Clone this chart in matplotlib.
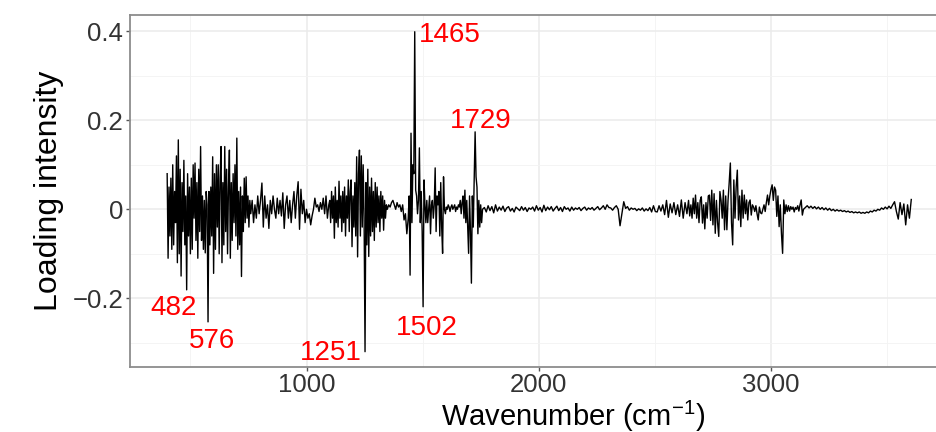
import numpy as np
import matplotlib
matplotlib.use("Agg")
import matplotlib.pyplot as plt
from matplotlib.ticker import FixedLocator, FuncFormatter

plt.rcParams['font.family'] = ['Liberation Sans', 'DejaVu Sans']
plt.rcParams['mathtext.fontset'] = 'custom'
plt.rcParams['mathtext.rm'] = 'Liberation Sans'
plt.rcParams['mathtext.default'] = 'regular'

# ---- spectrum data: (start wavenumber, step, loading values) per segment ----
seg1_start, seg1_step = 400, 4
seg1 = [0.08, -0.11, 0.05, -0.06, 0.07, -0.09, 0.10, -0.08, 0.04, -0.03,
        0.12, -0.12, 0.156, -0.10, 0.09, -0.15, 0.06, -0.05, 0.11, -0.08,
        0.03, -0.181, 0.08, -0.06, 0.05, -0.10, 0.07, -0.09, 0.10, -0.02,
        0.104, -0.07, 0.06, -0.11, 0.09, -0.05, 0.141, -0.07, 0.03, -0.09,
        0.02, -0.098, 0.04, 0.01, -0.253, 0.04, -0.08, 0.05, -0.06, 0.118,
        -0.144, 0.08, -0.09, 0.10, -0.04, 0.10, -0.10, 0.07, 0.141, -0.12,
        0.06, -0.08, 0.141, -0.05, 0.09, -0.10, 0.05, 0.133, -0.11, 0.06,
        -0.07, 0.08, -0.03, 0.10, -0.06, 0.16, -0.09, 0.04, -0.08, 0.05,
        -0.151, 0.03, -0.05, 0.07, -0.03, 0.073, -0.02, 0.03, -0.04, 0.02,
        -0.01]

seg2_start, seg2_step = 766, 6
seg2 = [0.02, -0.03, 0.01, -0.02, 0.03, -0.01, 0.02, 0.059, -0.04, 0.03,
        -0.02, 0.01, -0.043, 0.02, -0.01, 0.03, 0.00, -0.02, 0.025, -0.01,
        0.02, -0.015, 0.037, -0.043, 0.01, 0.03, -0.02, 0.02, -0.03, 0.01,
        0.04, -0.02, 0.03, 0.062, -0.045, 0.045, -0.01, 0.02, -0.03, 0.00,
        -0.02, -0.01, -0.035, -0.015, 0.00, 0.025, 0.005, 0.01, -0.005, 0.015,
        0.0, 0.025, -0.01, 0.03, -0.02, 0.01]

seg3_start, seg3_step = 1100, 4
seg3 = [0.02, -0.03, 0.04, -0.02, 0.03, -0.065, 0.05, -0.03, 0.02, -0.04,
        0.063, -0.02, 0.03, -0.05, 0.04, -0.03, 0.05, -0.06, 0.03, -0.02,
        0.066, -0.05, 0.04, 0.066, -0.084, 0.03, -0.04, 0.06, -0.06, 0.118,
        -0.107, 0.08, 0.133, -0.06, 0.12, -0.04, 0.10, -0.02, -0.32, 0.06,
        -0.08, 0.09, -0.106, 0.05, -0.06, 0.07, -0.05, 0.04, -0.07, 0.06,
        -0.04, 0.05, -0.03, 0.03, -0.05, 0.04, -0.02, 0.03, -0.047, 0.02,
        -0.02, 0.01, 0.00]

seg4_start, seg4_step = 1354, 6
seg4 = [0.01, 0.005, 0.015, 0.02, 0.01, 0.0, 0.015, 0.005, 0.01, -0.005,
        0.01, -0.024, -0.01, -0.055, -0.02]

seg5_start, seg5_step = 1442, 4
seg5 = [0.03, -0.148, 0.171, -0.03, 0.10, 0.08, 0.399, 0.043, 0.03, -0.01,
        0.02, 0.138, -0.03, 0.04, -0.05, -0.219, 0.066, 0.01, -0.03, 0.02,
        -0.03, 0.0, 0.03, -0.055, 0.01, 0.02, -0.02, 0.01, 0.093, -0.05,
        0.03, 0.01, 0.04, -0.06, 0.06, -0.04, -0.099, 0.073, 0.0, -0.01,
        0.005, 0.0, 0.01, 0.005, -0.005, 0.005, 0.01, 0.0, 0.005, 0.01,
        -0.005, 0.005, 0.0, 0.01, 0.005, 0.02, -0.01, 0.015, 0.03, -0.02,
        0.043, -0.03, 0.02, -0.04, -0.099, 0.03, -0.05, -0.166, 0.03, -0.04,
        0.073, 0.174, 0.073, 0.05, -0.055, 0.02, -0.04, 0.01, -0.03, 0.0]

seg6_start, seg6_step = 1766, 8
seg6 = [0.004, -0.006, 0.008, -0.003, 0.006, -0.008, 0.01, -0.004, 0.005, -0.002,
        0.007, -0.005, 0.003, 0.006, -0.004, 0.002, -0.006, 0.005, 0.001, -0.003,
        0.006, -0.002, 0.004, -0.005, 0.003, 0.0, 0.005, -0.004, 0.008, -0.002,
        0.004, -0.006, 0.009, -0.003, 0.005, -0.001, 0.006, -0.004, 0.002, 0.007,
        -0.003, 0.004, -0.005, 0.006, 0.0, 0.003, -0.004, 0.005, -0.002, 0.003,
        0.0, 0.004, -0.003, 0.002, 0.005, -0.002, 0.003, 0.0, 0.004, -0.002,
        0.002, 0.006, -0.001, 0.003, 0.008, 0.0, 0.01, 0.004]

seg7_start, seg7_step = 2310, 8
seg7 = [0.003, -0.002, 0.004, 0.008, 0.0, -0.037, -0.01, 0.017, 0.002, 0.006,
        -0.002, 0.003, 0.0, 0.002, -0.003, 0.001, -0.002, 0.003, -0.004, 0.001,
        -0.003, 0.004, -0.006, 0.008, -0.005]

seg8_start, seg8_step = 2510, 8
seg8 = [-0.006, 0.008, -0.004, 0.01, -0.012, 0.02, -0.018, 0.012, -0.008, 0.015,
        -0.012, 0.01, -0.016, 0.021, -0.02, 0.015, -0.01]

seg9_start, seg9_step = 2645, 5
seg9 = [0.02, -0.015, 0.01, -0.02, 0.025, -0.01, 0.032, -0.02, 0.015, -0.03,
        0.02, 0.028, -0.031, 0.01, -0.044, 0.015, -0.02, 0.03, 0.032, -0.025,
        0.043, -0.035, 0.035, -0.054, 0.02, -0.03, -0.061, 0.04, 0.02, -0.02,
        0.043, -0.046, 0.03, -0.046, 0.02, 0.06, 0.104, -0.03, -0.08, 0.066,
        -0.02, 0.05, 0.088, -0.024, 0.03, -0.039, 0.043, -0.02, 0.032, -0.01,
        0.021, -0.024, 0.015, 0.021, -0.013, 0.01, 0.005, -0.005, 0.008, -0.01,
        -0.024, 0.005, -0.008, -0.01, 0.0, 0.01, -0.005, 0.015, 0.032, 0.01,
        0.03, 0.045, 0.055, 0.02, 0.05, 0.043, -0.016, 0.03, -0.039, 0.01,
        -0.054, -0.099, 0.021, -0.01, 0.01, -0.005, 0.008, -0.004, 0.006, 0.0,
        0.005, -0.006, 0.004, 0.0, 0.008, -0.004, 0.01, 0.021, -0.013, 0.0]

seg10_start, seg10_step = 3148, 8
seg10 = [0.004, 0.008, 0.003, 0.007, 0.002, 0.006, 0.001, 0.005, 0.0, 0.004,
         -0.001, 0.003, -0.002, 0.002, -0.003, 0.0, -0.004, -0.001, -0.004, -0.002,
         -0.005, -0.003, -0.006, -0.004, -0.007, -0.005, -0.008, -0.006, -0.008, -0.006,
         -0.009, -0.007, -0.009, -0.006, -0.008, -0.004, -0.006, -0.002, -0.004, 0.0,
         -0.002, 0.003, 0.0, 0.005, 0.001, 0.007, 0.002, 0.01, 0.017, -0.005,
         -0.022, 0.015, -0.012, 0.012, -0.035, 0.01, -0.02, 0.022]

# labelled bands
peak_labels = ['482', '576', '1251', '1465', '1502', '1729']
label_x = [428, 594, 1104, 1615, 1516, 1750]
label_y = [-0.2375, -0.3117, -0.3387, 0.376, -0.2825, 0.183]

x_ticks = [1000, 2000, 3000]
y_ticks = [-0.2, 0.0, 0.2, 0.4]

segments = [(seg1_start, seg1_step, seg1), (seg2_start, seg2_step, seg2),
            (seg3_start, seg3_step, seg3), (seg4_start, seg4_step, seg4),
            (seg5_start, seg5_step, seg5), (seg6_start, seg6_step, seg6),
            (seg7_start, seg7_step, seg7), (seg8_start, seg8_step, seg8),
            (seg9_start, seg9_step, seg9), (seg10_start, seg10_step, seg10)]
wn = np.concatenate([s + st * np.arange(len(v)) for s, st, v in segments])
load = np.concatenate([np.asarray(v, float) for _, _, v in segments])

fig = plt.figure(figsize=(9.36, 4.32), dpi=100)
ax = fig.add_axes([130/936, 65/432, 817.5/936, 352/432])
ax.set_xlim(240, 3760)
ax.set_ylim(-0.3544, 0.4366)

# grid
ax.xaxis.set_major_locator(FixedLocator(x_ticks))
ax.xaxis.set_minor_locator(FixedLocator([500, 1500, 2500, 3500]))
ax.yaxis.set_major_locator(FixedLocator(y_ticks))
ax.yaxis.set_minor_locator(FixedLocator([-0.3, -0.1, 0.1, 0.3]))
ax.grid(True, which='major', color='#ebebeb', lw=1.1)
ax.grid(True, which='minor', color='#f3f3f3', lw=0.6)
ax.set_axisbelow(True)

ax.plot(wn, load, color='black', lw=1.0, zorder=3)

for t, xx, yy in zip(peak_labels, label_x, label_y):
    ax.text(xx, yy, t, color='#ff0000', fontsize=20, ha='center', va='baseline', zorder=4)

def yfmt(v, pos):
    if abs(v) < 1e-9:
        return '0'
    s = f'{v:.1f}'
    return s.replace('-', '\u2212')

ax.yaxis.set_major_formatter(FuncFormatter(yfmt))
ax.xaxis.set_major_formatter(FuncFormatter(lambda v, p: f'{int(v)}'))
ax.tick_params(which='major', length=3, width=1, color='#555555',
               labelsize=18.5, labelcolor='#333333', pad=2)
ax.tick_params(axis='x', which='major', pad=1.5)
ax.tick_params(which='minor', length=0)

for sp in ax.spines.values():
    sp.set_color('#8c8c8c')
    sp.set_linewidth(1.3)

ax.set_xlabel('Wavenumber (cm$^{-1}$)', fontsize=21, va='baseline')
ax.xaxis.set_label_coords(0.542, -0.167)
ax.set_ylabel('Loading intensity', fontsize=23, labelpad=6)

fig.savefig('out.png', dpi=100)
